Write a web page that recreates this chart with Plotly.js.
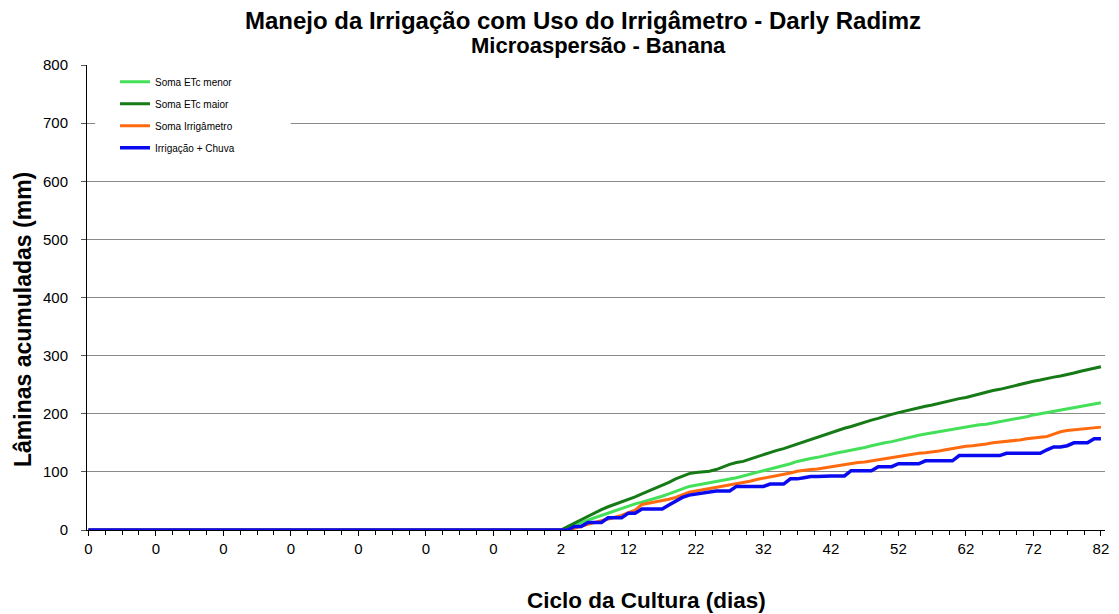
<!DOCTYPE html>
<html>
<head>
<meta charset="utf-8">
<script src="https://cdn.plot.ly/plotly-3.0.1.min.js"></script>
<style>
html,body{margin:0;padding:0;background:#fff;}
#chart{width:1119px;height:614px;}
</style>
</head>
<body>
<div id="chart"></div>
<script>
// Day of the crop cycle for each record (first 69 records are before planting: day 0)
var dias = [
0,0,0,0,0,0,0,0,0,0, 0,0,0,0,0,0,0,0,0,0,
0,0,0,0,0,0,0,0,0,0, 0,0,0,0,0,0,0,0,0,0,
0,0,0,0,0,0,0,0,0,0, 0,0,0,0,0,0,0,0,0,0,
0,0,0,0,0,0,0,0,0,
1,2,3,4,5,6,7,8,9,10, 11,12,13,14,15,16,17,18,19,20,
21,22,23,24,25,26,27,28,29,30, 31,32,33,34,35,36,37,38,39,40,
41,42,43,44,45,46,47,48,49,50, 51,52,53,54,55,56,57,58,59,60,
61,62,63,64,65,66,67,68,69,70, 71,72,73,74,75,76,77,78,79,80,
81,82
];

var somaEtcMenor = [
0,0,0,0,0,0,0,0,0,0, 0,0,0,0,0,0,0,0,0,0,
0,0,0,0,0,0,0,0,0,0, 0,0,0,0,0,0,0,0,0,0,
0,0,0,0,0,0,0,0,0,0, 0,0,0,0,0,0,0,0,0,0,
0,0,0,0,0,0,0,0,0,
0,0,3,8,12,17,21,25,29,33,
38,42,45,48,51,55,58,62,66,70,
75,77,79,81,83,85,88,90,93,96,
99,101,104,107,111,114,118,121,123,125,
128,131,133,135,137,139,142,145,148,150,
152,155,158,160,163,165,167,169,171,174,
176,178,179,181,182,184,186,188,190,193,
195,198,200,202,204,206,209,211,213,215,
217,219
];

var somaEtcMaior = [
0,0,0,0,0,0,0,0,0,0, 0,0,0,0,0,0,0,0,0,0,
0,0,0,0,0,0,0,0,0,0, 0,0,0,0,0,0,0,0,0,0,
0,0,0,0,0,0,0,0,0,0, 0,0,0,0,0,0,0,0,0,0,
0,0,0,0,0,0,0,0,0,
0,0,6,12,18,24,30,35,40,44,
48,52,57,62,67,72,76,82,88,93,
97,99,100,101,104,109,113,116,118,122,
126,129,133,137,140,144,147,151,155,159,
163,168,172,175,178,182,186,189,192,196,
199,202,205,208,211,213,215,218,220,223,
226,228,231,234,238,240,242,245,248,251,
254,256,258,261,263,265,267,270,273,276,
278,281
];

var somaIrrigametro = [
0,0,0,0,0,0,0,0,0,0, 0,0,0,0,0,0,0,0,0,0,
0,0,0,0,0,0,0,0,0,0, 0,0,0,0,0,0,0,0,0,0,
0,0,0,0,0,0,0,0,0,0, 0,0,0,0,0,0,0,0,0,0,
0,0,0,0,0,0,0,0,0,
0,0,0,3,7,10,13,16,19,22,
25,30,34,44,46,48,50,53,56,60,
65,67,69,71,73,75,78,80,82,84,
87,89,91,93,95,98,101,103,104,105,
107,109,111,112,114,116,117,119,120,122,
124,126,129,131,132,133,134,136,138,140,
143,144,145,146,148,150,151,152,154,155,
157,158,159,161,165,169,171,172,173,174,
176,177
];

var irrigacaoChuva = [
0,0,0,0,0,0,0,0,0,0, 0,0,0,0,0,0,0,0,0,0,
0,0,0,0,0,0,0,0,0,0, 0,0,0,0,0,0,0,0,0,0,
0,0,0,0,0,0,0,0,0,0, 0,0,0,0,0,0,0,0,0,0,
0,0,0,0,0,0,0,0,0,
0,0,0,6,6,13,13,13,21,21,
21,29,29,36,36,36,36,43,50,56,
60,62,64,66,67,67,67,75,75,75,
75,75,79,79,79,88,88,90,92,92,
93,93,93,93,102,102,102,102,109,109,
109,114,114,114,114,119,119,119,119,119,
128,128,128,128,128,128,128,132,132,132,
132,132,132,138,143,143,145,150,150,150,
157,157
];

var seriesNames = ["Soma ETc menor", "Soma ETc maior", "Soma Irrigâmetro", "Irrigação + Chuva"];
var seriesColors = ["#45E05A", "#167A16", "#FF6A0E", "#0A0AF0"];
var seriesWidths = [3, 3, 3, 3.5];
var yTicks = [0,100,200,300,400,500,600,700,800];
var titulo1 = "Manejo da Irrigação com Uso do Irrigâmetro - Darly Radimz";
var titulo2 = "Microaspersão - Banana";
var tituloX = "Ciclo da Cultura (dias)";
var tituloY = "Lâminas acumuladas (mm)";

var idx = dias.map(function(d, i){ return i; });
var labelIdx = idx.filter(function(i){ return i % 10 === 0; });
var labelTxt = labelIdx.map(function(i){ return String(dias[i]); });

var seriesData = [somaEtcMenor, somaEtcMaior, somaIrrigametro, irrigacaoChuva];
var traces = seriesData.map(function(vals, k){
  return {
    x: idx, y: vals, type: 'scatter', mode: 'lines',
    name: seriesNames[k], legendgroup: 'g' + k,
    line: {color: seriesColors[k], width: seriesWidths[k]}
  };
});

var FONT = 'Liberation Sans, Arial, sans-serif';
var layout = {
  width: 1119, height: 614,
  margin: {l: 87, r: 14, t: 65, b: 84},
  paper_bgcolor: '#fff', plot_bgcolor: '#fff',
  font: {family: FONT, color: '#000'},
  title: {
    text: '<b>' + titulo1 + '</b>',
    font: {family: FONT, size: 24, color: '#000'},
    xref: 'container', yref: 'container',
    x: 583/1119, xanchor: 'center', y: 1 - 21/614, yanchor: 'middle'
  },
  annotations: [
    {text: '<b>' + titulo2 + '</b>', xref: 'paper', yref: 'paper',
     x: (598-87)/1018, y: (530-45)/465, xanchor: 'center', yanchor: 'middle',
     showarrow: false, font: {family: FONT, size: 22, color: '#000'}},
    {text: '<b>' + tituloX + '</b>', xref: 'paper', yref: 'paper',
     x: (646-87)/1018, y: (530-600)/465, xanchor: 'center', yanchor: 'middle',
     showarrow: false, font: {family: FONT, size: 22.5, color: '#000'}},
    {text: '<b>' + tituloY + '</b>', xref: 'paper', yref: 'paper', textangle: -90,
     x: (23-87)/1018, y: (530-320)/465, xanchor: 'center', yanchor: 'middle',
     showarrow: false, font: {family: FONT, size: 23, color: '#000'}}
  ],
  xaxis: {
    range: [-0.2, 150.6],
    tickmode: 'array', tickvals: labelIdx, ticktext: labelTxt,
    ticks: 'outside', ticklen: 5, tickcolor: '#000', tickwidth: 1,
    minor: {dtick: 2.5, tick0: 0, ticks: 'outside', ticklen: 4, tickcolor: '#000', showgrid: false},
    showgrid: false, zeroline: false,
    showline: true, linecolor: '#000', linewidth: 1,
    tickfont: {family: FONT, size: 15, color: '#000'}
  },
  yaxis: {
    range: [0, 800], tickmode: 'array', tickvals: yTicks,
    ticks: 'outside', ticklen: 5, tickcolor: '#555',
    ticklabelstandoff: 10,
    showgrid: true, gridcolor: '#8a8a8a', gridwidth: 1,
    zeroline: false, showline: true, linecolor: '#000', linewidth: 1,
    tickfont: {family: FONT, size: 15, color: '#000'}
  },
  shapes: [{
    type: 'rect', xref: 'paper', yref: 'paper', layer: 'above',
    x0: 0.008, x1: 0.2, y0: 0.79, y1: 0.99,
    fillcolor: '#fff', line: {width: 0}
  }],
  legend: {
    x: 0.0275, y: 0.995, xanchor: 'left', yanchor: 'top',
    bgcolor: 'rgba(0,0,0,0)', borderwidth: 0,
    font: {family: FONT, size: 10, color: '#000'},
    tracegroupgap: 3
  },
  showlegend: true
};

Plotly.newPlot('chart', traces, layout, {displayModeBar: false, staticPlot: true});
</script>
</body>
</html>
